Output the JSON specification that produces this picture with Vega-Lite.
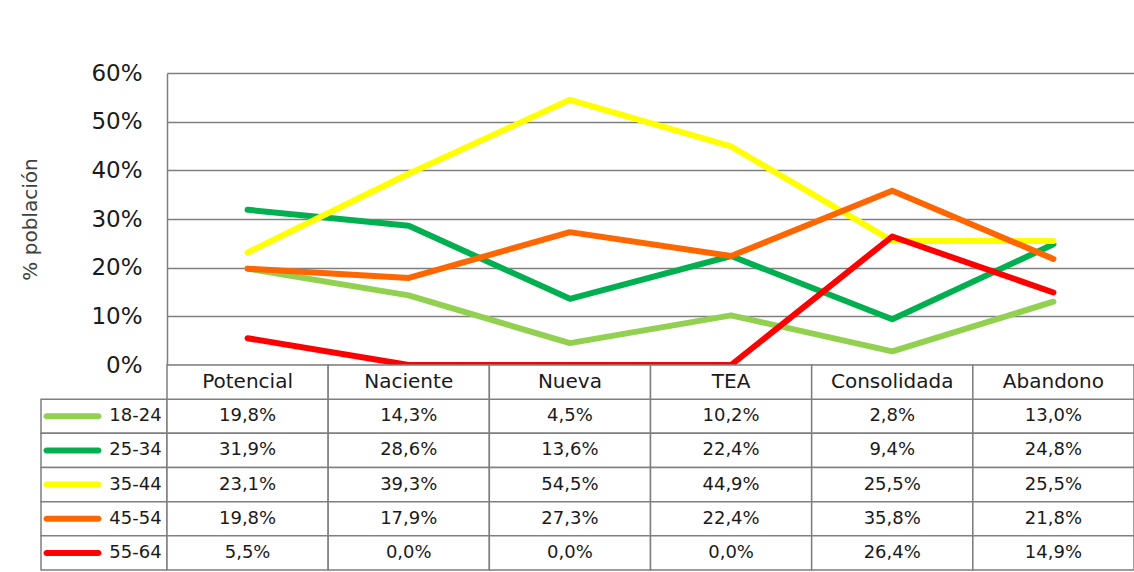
{
  "$schema": "https://vega.github.io/schema/vega-lite/v6.json",
  "background": "white",
  "padding": {"left": 20, "top": 62, "right": 0, "bottom": 0},
  "config": {
    "view": {"stroke": null},
    "locale": {"number": {"decimal": ",", "thousands": ".", "grouping": [3], "currency": ["", " €"]}},
    "text": {"font": "DejaVu Sans", "fontSize": 18, "fill": "#1a1a1a"}
  },
  "datasets": {
    "t": [
      {"grupo": "18-24", "categoria": "Potencial", "valor": 0.198},
      {"grupo": "18-24", "categoria": "Naciente", "valor": 0.143},
      {"grupo": "18-24", "categoria": "Nueva", "valor": 0.045},
      {"grupo": "18-24", "categoria": "TEA", "valor": 0.102},
      {"grupo": "18-24", "categoria": "Consolidada", "valor": 0.028},
      {"grupo": "18-24", "categoria": "Abandono", "valor": 0.130},
      {"grupo": "25-34", "categoria": "Potencial", "valor": 0.319},
      {"grupo": "25-34", "categoria": "Naciente", "valor": 0.286},
      {"grupo": "25-34", "categoria": "Nueva", "valor": 0.136},
      {"grupo": "25-34", "categoria": "TEA", "valor": 0.224},
      {"grupo": "25-34", "categoria": "Consolidada", "valor": 0.094},
      {"grupo": "25-34", "categoria": "Abandono", "valor": 0.248},
      {"grupo": "35-44", "categoria": "Potencial", "valor": 0.231},
      {"grupo": "35-44", "categoria": "Naciente", "valor": 0.393},
      {"grupo": "35-44", "categoria": "Nueva", "valor": 0.545},
      {"grupo": "35-44", "categoria": "TEA", "valor": 0.449},
      {"grupo": "35-44", "categoria": "Consolidada", "valor": 0.255},
      {"grupo": "35-44", "categoria": "Abandono", "valor": 0.255},
      {"grupo": "45-54", "categoria": "Potencial", "valor": 0.198},
      {"grupo": "45-54", "categoria": "Naciente", "valor": 0.179},
      {"grupo": "45-54", "categoria": "Nueva", "valor": 0.273},
      {"grupo": "45-54", "categoria": "TEA", "valor": 0.224},
      {"grupo": "45-54", "categoria": "Consolidada", "valor": 0.358},
      {"grupo": "45-54", "categoria": "Abandono", "valor": 0.218},
      {"grupo": "55-64", "categoria": "Potencial", "valor": 0.055},
      {"grupo": "55-64", "categoria": "Naciente", "valor": 0.0},
      {"grupo": "55-64", "categoria": "Nueva", "valor": 0.0},
      {"grupo": "55-64", "categoria": "TEA", "valor": 0.0},
      {"grupo": "55-64", "categoria": "Consolidada", "valor": 0.264},
      {"grupo": "55-64", "categoria": "Abandono", "valor": 0.149}
    ]
  },
  "columns": 2,
  "spacing": 0,
  "bounds": "flush",
  "concat": [
    {
      "width": 126, "height": 292,
      "data": {"values": []},
      "mark": "point"
    },
    {
      "width": 967, "height": 292,
      "data": {"name": "t"},
      "mark": {"type": "line", "strokeWidth": 6, "strokeCap": "round", "strokeJoin": "round"},
      "encoding": {
        "x": {"field": "categoria", "type": "nominal", "sort": ["Potencial", "Naciente", "Nueva", "TEA", "Consolidada", "Abandono"], "scale": {"type": "point", "padding": 0.5}, "axis": null},
        "y": {"field": "valor", "type": "quantitative", "scale": {"domain": [0, 0.6], "nice": false},
          "axis": {"values": [0, 0.1, 0.2, 0.3, 0.4, 0.5, 0.6], "format": ".0%", "ticks": false, "tickSize": 0, "labelPadding": 25,
            "labelFont": "DejaVu Sans", "labelFontSize": 23, "labelColor": "#1a1a1a",
            "grid": true, "gridColor": "#7f7f7f", "gridWidth": 1.5,
            "domain": true, "domainColor": "#7f7f7f", "domainWidth": 1.5,
            "title": "% población", "titleFont": "DejaVu Sans", "titleFontSize": 20, "titleFontWeight": "normal", "titleColor": "#404040", "titlePadding": 50}},
        "color": {"field": "grupo", "type": "nominal", "scale": {"domain": ["18-24", "25-34", "35-44", "45-54", "55-64"], "range": ["#92D050", "#00B050", "#FFFF00", "#FF6600", "#FF0000"]}, "legend": null}
      }
    },
    {
      "width": 126, "height": 205,
      "data": {"name": "t"},
      "transform": [{"filter": "datum.categoria === 'Potencial'"}],
      "encoding": {
        "y": {"field": "grupo", "type": "nominal", "scale": {"domain": ["cat", "18-24", "25-34", "35-44", "45-54", "55-64"], "paddingInner": 0, "paddingOuter": 0}, "axis": null}
      },
      "layer": [
        {"mark": {"type": "rect", "fill": "white", "stroke": "#7f7f7f", "strokeWidth": 1.5}},
        {"mark": {"type": "tick", "orient": "horizontal", "size": 58, "thickness": 6, "cornerRadius": 3, "opacity": 1},
          "encoding": {
            "x": {"datum": "swatch", "type": "nominal", "scale": {"domain": ["swatch", "label"], "paddingInner": 0, "paddingOuter": 0}, "axis": null},
            "color": {"field": "grupo", "type": "nominal", "scale": {"domain": ["18-24", "25-34", "35-44", "45-54", "55-64"], "range": ["#92D050", "#00B050", "#FFFF00", "#FF6600", "#FF0000"]}, "legend": null}
          }},
        {"mark": {"type": "text", "align": "center", "baseline": "middle"},
          "encoding": {
            "x": {"datum": "label", "type": "nominal", "axis": null},
            "text": {"field": "grupo", "type": "nominal"}
          }}
      ]
    },
    {
      "width": 967, "height": 205,
      "data": {"name": "t"},
      "encoding": {
        "x": {"field": "categoria", "type": "nominal", "sort": ["Potencial", "Naciente", "Nueva", "TEA", "Consolidada", "Abandono"], "scale": {"type": "band", "paddingInner": 0, "paddingOuter": 0}, "axis": null}
      },
      "layer": [
        {"mark": {"type": "rect", "fill": "white", "stroke": "#7f7f7f", "strokeWidth": 1.5},
          "encoding": {"y": {"field": "grupo", "type": "nominal", "scale": {"domain": ["cat", "18-24", "25-34", "35-44", "45-54", "55-64"], "paddingInner": 0, "paddingOuter": 0}, "axis": null}}},
        {"transform": [{"filter": "datum.grupo === '18-24'"}],
          "mark": {"type": "rect", "fill": "white", "stroke": "#7f7f7f", "strokeWidth": 1.5},
          "encoding": {"y": {"datum": "cat", "type": "nominal"}}},
        {"mark": {"type": "text", "align": "center", "baseline": "middle"},
          "encoding": {
            "y": {"field": "grupo", "type": "nominal"},
            "text": {"field": "valor", "type": "quantitative", "format": ".1%"}
          }},
        {"transform": [{"filter": "datum.grupo === '18-24'"}],
          "mark": {"type": "text", "align": "center", "baseline": "middle", "fontSize": 20},
          "encoding": {
            "y": {"datum": "cat", "type": "nominal"},
            "text": {"field": "categoria", "type": "nominal"}
          }}
      ]
    }
  ]
}
